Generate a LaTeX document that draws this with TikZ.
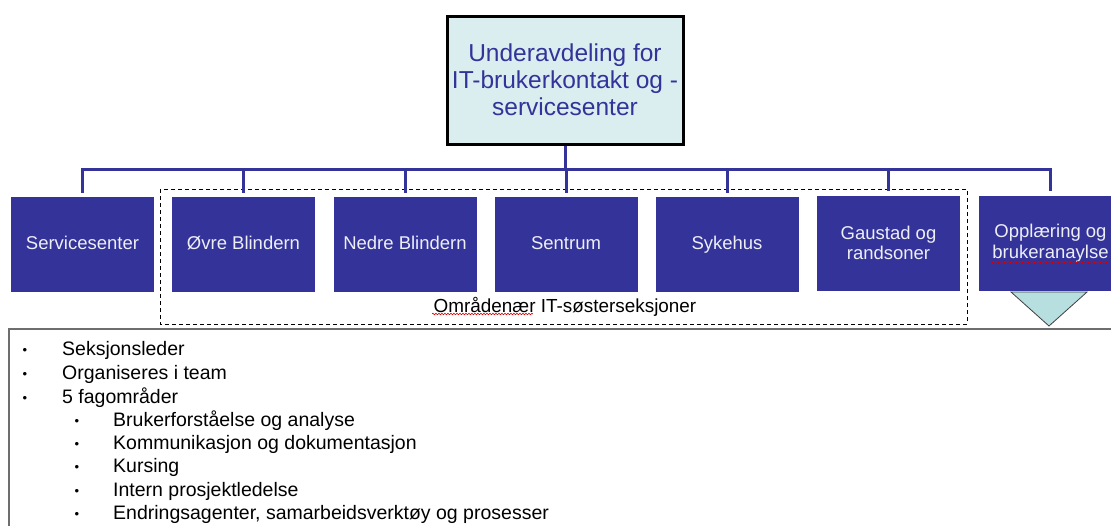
\documentclass[tikz,border=0pt]{standalone}
\usepackage{fontspec}
\setmainfont{Liberation Sans}
\usetikzlibrary{decorations.pathmorphing}
\definecolor{navy}{HTML}{333399}
\definecolor{topfill}{HTML}{DAEEF0}
\definecolor{trifill}{HTML}{B7DFE0}
\definecolor{boxtext}{HTML}{EEEEF6}
\definecolor{frame}{HTML}{6E6E6E}
\tikzset{
  topbox/.style={draw=black, line width=3pt, fill=topfill, text=navy,
    minimum width=236pt, minimum height=128pt, align=center, inner sep=0pt,
    font=\fontsize{24.5}{27}\selectfont},
  unitbox/.style={fill=navy, text=boxtext, minimum width=143pt, minimum height=95pt,
    align=center, inner sep=0pt, font=\fontsize{18.5}{20.5}\selectfont},
  conn/.style={draw=navy, line width=3pt},
  grp/.style={draw=black, dashed, line width=0.8pt, dash pattern=on 4pt off 3pt},
  listtxt/.style={anchor=base west, inner sep=0pt, font=\fontsize{19.5}{23}\selectfont},
  bul/.style={anchor=center, inner sep=0pt, font=\fontsize{13}{14}\selectfont},
  spell/.style={draw=red!85!black, line width=0.6pt, decorate,
    decoration={snake, amplitude=0.8pt, segment length=3pt}},
}
\begin{document}
\begin{tikzpicture}[x=1pt,y=-1pt]
\useasboundingbox (0,0) rectangle (1111,525);
\clip (0,0) rectangle (1111,525);
% top node
\node[topbox] (top) at (565,80) {Underavdeling for\\IT-brukerkontakt og -\\servicesenter};
% group frame
\draw[grp] (160,189) rectangle (967,324);
\node[inner sep=0pt, font=\fontsize{18.9}{21}\selectfont] (grplabel) at (565,306.5) {Områdenær IT-søsterseksjoner};
\draw[spell] (432,314) -- (533,314);
% unit boxes
\node[unitbox] (s1) at (82.5,244.5) {Servicesenter\vphantom{g}};
\node[unitbox] (s2) at (243.5,244.5) {Øvre Blindern\vphantom{g}};
\node[unitbox] (s3) at (405,244.5) {Nedre Blindern\vphantom{g}};
\node[unitbox] (s4) at (566,244.5) {Sentrum\vphantom{g}};
\node[unitbox] (s5) at (727,244.5) {Sykehus\vphantom{g}};
\node[unitbox] (s6) at (888.5,243) {Gaustad og\\randsoner};
\node[unitbox] (s7) at (1050.5,243) {Opplæring og\\brukeranaylse};
\draw[spell] (990,262) -- (1108,262);
% connectors
\coordinate (bus) at (565,169);
\draw[conn] (top.south) -- (bus);
\draw[conn, line cap=rect] (bus -| s1.north) -- (bus -| s7.north);
\foreach \n in {s1,s2,s3,s4,s5,s6,s7}{
  \draw[conn] (bus -| \n.north) -- ([yshift=4pt]\n.north);
}
% triangle
\draw[fill=trifill, draw=black!75, line width=0.8pt] (1011,292) -- (1087,292) -- (1049,326) -- cycle;
% list frame
\draw[draw=frame, line width=1.6pt] (9,329) rectangle (1125,540);
% list
\foreach \y/\t in {348/Seksjonsleder, 372/Organiseres i team, 396/5 fagområder}{
  \node[bul] at (25,\y+3) {\textbullet};
  \node[listtxt] at (62,\y+7) {\t};
}
\foreach \y/\t in {419/Brukerforståelse og analyse, 442/Kommunikasjon og dokumentasjon, 465/Kursing, 489/Intern prosjektledelse, 512/{Endringsagenter, samarbeidsverktøy og prosesser}}{
  \node[bul] at (77,\y+3) {\textbullet};
  \node[listtxt] at (113,\y+7) {\t};
}
\end{tikzpicture}
\end{document}
